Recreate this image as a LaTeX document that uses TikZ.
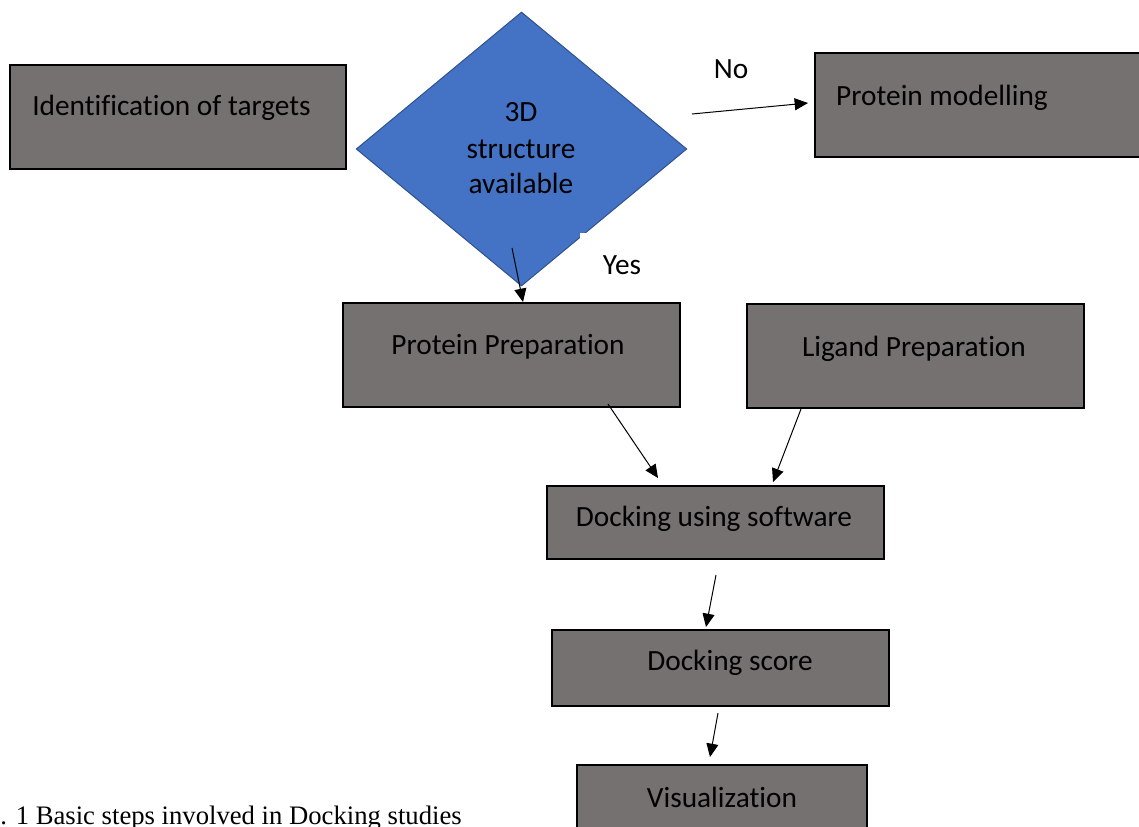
\documentclass[tikz,border=0pt]{standalone}
\usepackage{fontspec}
\setmainfont{Carlito}[Ligatures={NoCommon}]
\newfontfamily\capfont{Liberation Serif}
\usetikzlibrary{arrows.meta,shapes.geometric,fit}
\definecolor{boxgray}{HTML}{767171}
\definecolor{dblue}{HTML}{4472C4}
\definecolor{dblueedge}{HTML}{2F528F}
\begin{document}
\begin{tikzpicture}[x=0.75pt,y=-0.75pt,
  procbox/.style={draw=black, line width=1.5pt, fill=boxgray, inner sep=0pt},
  lbl/.style={font=\fontsize{22}{26}\selectfont, text=black, inner sep=0pt, anchor=base},
  conn/.style={-{Triangle[length=10pt,width=9pt]}, line width=0.75pt},
]
\useasboundingbox (0,0) rectangle (1139,827);
\clip (0,0) rectangle (1139,827);

% boxes
\node[procbox, fit={(10,65) (346,169)}] (ident) {};
\node[procbox, fit={(815,53) (1145,157)}] (model) {};
\node[procbox, fit={(343,303) (680,407)}] (pprep) {};
\node[procbox, fit={(747,304) (1084,408)}] (lprep) {};
\node[procbox, fit={(547,486) (884,559)}] (dock) {};
\node[procbox, fit={(552,630) (889,706)}] (score) {};
\node[procbox, fit={(577,765) (867,840)}] (vis) {};

% decision
\node[diamond, draw=dblueedge, line width=0.75pt, fill=dblue, inner sep=0pt,
      minimum width=248pt, minimum height=205.5pt] (dec) at (521.5,149) {};
\fill[white] (580,233) rectangle (588,241);

% texts
\node[lbl] (tident) at (171.5,116) {Identification of targets};
\node[lbl] (t3d) at (521,122) {3D};
\node[lbl] (tstruct) at (521,159) {structure};
\node[lbl] (tavail) at (521,194) {available};
\node[lbl] (tno) at (731,79) {No};
\node[lbl] (tyes) at (622,275) {Yes};
\node[lbl] (tmodel) at (942,106) {Protein modelling};
\node[lbl] (tpprep) at (508,354) {Protein Preparation};
\node[lbl] (tlprep) at (914,357) {Ligand Preparation};
\node[lbl] (tdock) at (714,526) {Docking using software};
\node[lbl] (tscore) at (730,670) {Docking score};
\node[lbl] (tvis) at (722,807) {Visualization};
\node[font=\capfont\fontsize{20}{24}\selectfont, anchor=base west, inner sep=0pt] (caption) at (0,824) {. 1 Basic steps involved in Docking studies};

% connector end points
\coordinate (a1) at (692,114); \coordinate (a2) at (808,103);
\coordinate (b1) at (512,248); \coordinate (b2) at (523,302);
\coordinate (c1) at (608,404); \coordinate (c2) at (658,478);
\coordinate (d1) at (801,409); \coordinate (d2) at (773,482);
\coordinate (e1) at (716,575); \coordinate (e2) at (706,627);
\coordinate (f1) at (718,713); \coordinate (f2) at (710,757);

\draw[conn] (a1) -- (a2);
\draw[conn] (b1) -- (b2);
\draw[conn] (c1) -- (c2);
\draw[conn] (d1) -- (d2);
\draw[conn] (e1) -- (e2);
\draw[conn] (f1) -- (f2);
\end{tikzpicture}
\end{document}
